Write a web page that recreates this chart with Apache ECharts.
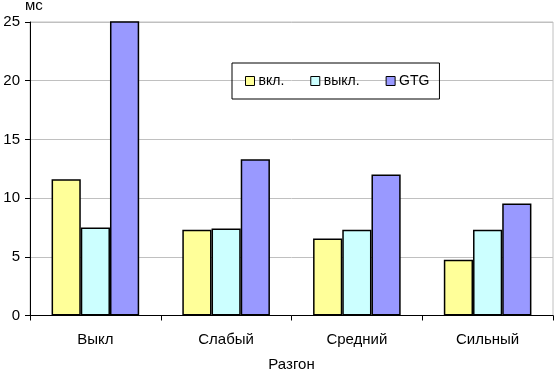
<!DOCTYPE html>
<html><head><meta charset="utf-8">
<script src="https://cdn.jsdelivr.net/npm/echarts@6/dist/echarts.min.js"></script>
<style>html,body{margin:0;padding:0;background:#fff}#c{width:554px;height:371px}</style>
</head><body><div id="c"></div>
<script>
const categories = ['Выкл', 'Слабый', 'Средний', 'Сильный'];
const seriesNames = ['вкл.', 'выкл.', 'GTG'];
const onValues = [11.6, 7.3, 6.55, 4.75];
const offValues = [7.5, 7.4, 7.3, 7.3];
const gtgValues = [25.1, 13.3, 12.0, 9.55];
const yTicks = [0, 5, 10, 15, 20, 25];
const colors = ['#ffff99', '#ccffff', '#9999ff'];
const font = 'Liberation Sans, Arial, sans-serif';

const chart = echarts.init(document.getElementById('c'));
const data = [onValues, offValues, gtgValues];
chart.setOption({
  animation: false,
  grid: {left: 30, right: 1, top: 22, bottom: 55.5, containLabel: false, outerBoundsMode: 'none',
    show: true, borderColor: '#c0c0c0', borderWidth: 1},
  legend: {
    left: 232, top: 63, width: 217, height: 38,
    padding: [11, 10, 11, 13],
    itemGap: 26,
    itemWidth: 9, itemHeight: 9,
    borderColor: '#000', borderWidth: 1,
    icon: 'rect',
    textStyle: {fontFamily: font, fontSize: 14, color: '#000', padding: [0,0,0,-1]},
    data: seriesNames.map((n,i)=>({name:n, itemStyle:{color:colors[i], borderColor:'#000', borderWidth:1}}))
  },
  xAxis: {
    type: 'category', data: categories,
    name: 'Разгон', nameLocation: 'middle', nameGap: 42,
    nameTextStyle: {fontFamily: font, fontSize: 15, color: '#000'},
    axisLine: {lineStyle: {color: '#000', width: 1}},
    axisTick: {show: true, length: 5, lineStyle: {color: '#000'}},
    axisLabel: {fontFamily: font, fontSize: 15, color: '#000', margin: 17},
    splitLine: {show: false}
  },
  yAxis: {
    type: 'value', min: 0, max: 25, interval: 5,
    name: 'мс', nameLocation: 'end', nameGap: 9,
    nameTextStyle: {fontFamily: font, fontSize: 15, color: '#000', align: 'left', padding: [0,0,0,-5]},
    axisLine: {show: true, lineStyle: {color: '#000', width: 1}},
    axisTick: {show: true, length: 5, lineStyle: {color: '#000'}},
    axisLabel: {fontFamily: font, fontSize: 15, color: '#000', margin: 10,
      formatter: v => yTicks.includes(v) ? String(v) : ''},
    splitLine: {show: true, lineStyle: {color: '#c0c0c0', width: 1}}
  },
  series: seriesNames.map((n,i)=>({
    name: n, type: 'bar', data: data[i],
    barGap: '0%', barCategoryGap: '33%',
    itemStyle: {color: colors[i], borderColor: '#000', borderWidth: 1.5}
  }))
});
</script></body></html>
